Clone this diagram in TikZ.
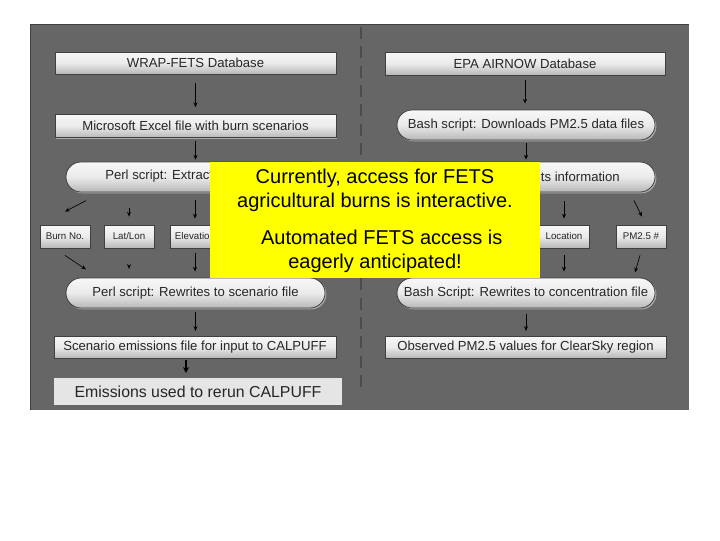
\documentclass[tikz,border=0pt]{standalone}
\usepackage{fontspec}
\setmainfont{Liberation Sans}
\usetikzlibrary{shapes.misc,shadows,arrows.meta}
\definecolor{panel}{HTML}{666666}
\definecolor{hl}{HTML}{FFFF00}
\tikzset{
  x=0.75pt,y=-0.75pt,
  wh/.style 2 args={minimum width=#1*0.75pt,minimum height=#2*0.75pt},
  base/.style={inner sep=0pt,text=black!85,draw=black!75,line width=0.6pt,top color=white!97!black,bottom color=black!28,middle color=black!8,
    drop shadow={shadow xshift=1pt,shadow yshift=-1pt,fill=black!30,opacity=0.9}},
  sqbox/.style={base,rectangle,font=\fontsize{9.85}{11}\selectfont},
  pill/.style={base,rounded rectangle,font=\fontsize{9.85}{11}\selectfont},
  tiny/.style={base,rectangle,wh={50}{23},font=\fontsize{7.3}{9}\selectfont},
  arr/.style={draw=black,line width=0.5pt,-{Stealth[length=3.6pt,width=3pt]}},
  pilltext/.style={inner sep=0pt,text=black!85,font=\fontsize{9.85}{11}\selectfont},
  yellowtext/.style={inner sep=0pt,text=black,font=\fontsize{15}{18}\selectfont,align=center}
}
\begin{document}
\begin{tikzpicture}
\useasboundingbox (0,0) rectangle (720,540);
\fill[panel] (30,24) rectangle (689,410);
\draw[black!75,line width=0.5pt] (30,410) -- (30,24) -- (689,24);
\coordinate (divtop) at (361,27);
\coordinate (divbot) at (361,390);
\draw[black!70,line width=1pt,dash pattern=on 9pt off 5.5pt] (divtop) -- (divbot);

% left column
\node[sqbox,wh={281}{22}] (wrap) at (195.5,63) {\raisebox{1pt}{WRAP-FETS Database}};
\node[sqbox,wh={281}{23}] (excel) at (195.5,126) {Microsoft Excel file with burn scenarios};
\node[pill,wh={260}{30}] (ex1) at (196,177) {};
\node[pilltext,anchor=west] (ex1t) at (105,176.5) {Perl script: Extract};
\node[tiny] (burn) at (65,236.5) {Burn No.};
\node[tiny] (lat) at (129,236.5) {Lat/Lon};
\node[tiny] (elev) at (195,236.5) {Elevation};
\node[pill,wh={259}{30}] (rw1) at (195.5,293) {Perl script: Rewrites to scenario file};
\node[sqbox,wh={282}{22}] (scen) at (195,347) {Scenario emissions file for input to CALPUFF};
\node[rectangle,inner sep=0pt,fill=black!10,text=black!85,wh={288}{27},font=\fontsize{11.9}{13}\selectfont] (used) at (198,391.5) {Emissions used to rerun CALPUFF};

% right column
\node[sqbox,wh={280}{23}] (epa) at (525,63.5) {EPA AIRNOW Database};
\node[pill,wh={258}{30}] (bash) at (526,125) {Bash script: Downloads PM2.5 data files};
\node[pill,wh={258}{30}] (ex2) at (526,177) {};
\node[pilltext,anchor=east] (ex2t) at (620,176.5) {ts information};
\node[tiny] (loc) at (564,236.5) {Location};
\node[tiny] (pm) at (641,236.5) {PM2.5 \#};
\node[pill,wh={258}{30}] (rw2) at (526,293) {Bash Script: Rewrites to concentration file};
\node[sqbox,wh={281}{22}] (obs) at (525.5,347) {Observed PM2.5 values for ClearSky region};

% connectors, left
\draw[arr,shorten <=9pt*0.75,shorten >=7pt*0.75] (wrap.south) -- (wrap.south |- excel.north);
\draw[arr,shorten <=3pt*0.75,shorten >=2pt*0.75] (excel.south) -- (excel.south |- ex1.north);
\draw[arr] ([shift={(21,-24)}]burn.north) -- ([shift={(0,-13)}]burn.north);
\draw[arr,shorten <=12pt] (lat.north |- ex1.south) -- ([yshift=6pt]lat.north);
\draw[arr,shorten <=6pt,shorten >=4.5pt] (ex1.south -| elev.north) -- (elev.north);
\draw[arr] ([shift={(0,7)}]burn.south) -- ([shift={(21,21)}]burn.south);
\draw[arr,shorten <=13pt,shorten >=6.5pt] (lat.south) -- (lat.south |- rw1.north);
\draw[arr,shorten <=3.5pt,shorten >=4.5pt] (elev.south) -- (elev.south |- rw1.north);
\draw[arr,shorten <=3pt,shorten >=3.5pt] (rw1.south) -- (rw1.south |- scen.north);
\draw[draw=black,line width=1pt,-{Stealth[length=4.5pt,width=4.5pt]},shorten <=1.5pt,shorten >=3.5pt] (scen.south -| 186,0) -- (used.north -| 186,0);

% connectors, right
\draw[arr,shorten <=3.5pt,shorten >=4.5pt] (epa.south) -- (epa.south |- bash.north);
\draw[arr,shorten <=2pt,shorten >=1.5pt] (bash.south) -- (bash.south |- ex2.north);
\draw[arr,shorten <=6.5pt,shorten >=4.5pt] (ex2.south -| loc.north) -- (loc.north);
\draw[arr] ([shift={(-7,-24)}]pm.north) -- ([shift={(1,-8)}]pm.north);
\draw[arr,shorten <=5pt,shorten >=4.5pt] (loc.south) -- (loc.south |- rw2.north);
\draw[arr] ([shift={(-1,7)}]pm.south) -- ([shift={(-6,24)}]pm.south);
\draw[arr,shorten <=4pt,shorten >=3.5pt] (rw2.south) -- (rw2.south |- obs.north);

% yellow callout
\node[rectangle,inner sep=0pt,fill=hl,wh={330}{116}] (call) at (375,220) {};
\node[yellowtext] (t1) at (375,190) {Currently, access for FETS\\agricultural burns is interactive.};
\node[yellowtext] (t2) at (375,251) {\hspace*{10pt}Automated FETS access is\\eagerly anticipated!};
\end{tikzpicture}
\end{document}
